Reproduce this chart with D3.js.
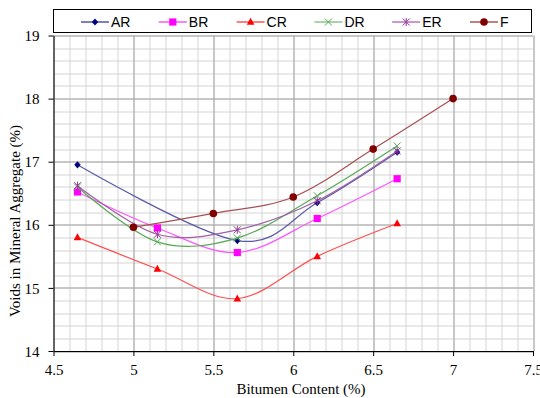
<!DOCTYPE html>
<html>
<head>
<meta charset="utf-8">
<script src="https://cdn.jsdelivr.net/npm/d3@7"></script>
<style>
  body { margin: 0; background: #fff; }
  svg { display: block; }
</style>
</head>
<body>
<svg width="540" height="398"></svg>
<script>
// series: x = bitumen content (%), y = VMA (%)
const xAR = [4.65, 5.65, 6.15, 6.65];
const yAR = [16.95, 15.75, 16.35, 17.15];
const xBR = [4.65, 5.15, 5.65, 6.15, 6.65];
const yBR = [16.52, 15.95, 15.56, 16.10, 16.73];
const xCR = [4.65, 5.15, 5.65, 6.15, 6.65];
const yCR = [15.80, 15.30, 14.83, 15.50, 16.02];
const xDR = [4.65, 5.15, 5.65, 6.15, 6.65];
const yDR = [16.60, 15.73, 15.79, 16.46, 17.25];
const xER = [4.65, 5.15, 5.65, 6.15, 6.65];
const yER = [16.62, 15.85, 15.92, 16.38, 17.17];
const xF = [5.0, 5.5, 6.0, 6.5, 7.0];
const yF = [15.96, 16.18, 16.44, 17.20, 18.00];

const seriesNames = ['AR', 'BR', 'CR', 'DR', 'ER', 'F'];
const xTicks = [4.5, 5, 5.5, 6, 6.5, 7, 7.5];
const yTicks = [14, 15, 16, 17, 18, 19];

const series = [
  {name: 'AR', xs: xAR, ys: yAR, color: '#000080', line: '#5a5aa8', marker: 'diamond'},
  {name: 'BR', xs: xBR, ys: yBR, color: '#ff00ff', line: '#ff55ff', marker: 'square'},
  {name: 'CR', xs: xCR, ys: yCR, color: '#ff0000', line: '#ff5050', marker: 'triangle'},
  {name: 'DR', xs: xDR, ys: yDR, color: '#55aa55', line: '#55aa55', marker: 'cross'},
  {name: 'ER', xs: xER, ys: yER, color: '#993399', line: '#a060a8', marker: 'star'},
  {name: 'F',  xs: xF,  ys: yF,  color: '#800000', line: '#a85050', marker: 'circle'}
];

const serif = '"Liberation Serif", "Times New Roman", serif';
const svg = d3.select('svg');
const margin = {top: 35.5, right: 7, bottom: 47, left: 53.5};
const width = 540 - margin.left - margin.right,
      height = 398 - margin.top - margin.bottom;

const x = d3.scaleLinear().domain([4.5, 7.5]).range([0, width]);
const y = d3.scaleLinear().domain([14, 19]).range([height, 0]);

const g = svg.append('g')
    .attr('transform', 'translate(' + margin.left + ',' + margin.top + ')');

// minor grid
g.append('g').selectAll('line')
    .data(d3.range(45, 76, 1).map(d => d / 10))
  .enter().append('line')
    .attr('x1', d => Math.round(x(d)) + 0.5).attr('x2', d => Math.round(x(d)) + 0.5)
    .attr('y1', 0).attr('y2', height)
    .attr('stroke', '#d4d4d4');
g.append('g').selectAll('line')
    .data(d3.range(70, 96, 1).map(d => d / 5))
  .enter().append('line')
    .attr('y1', d => Math.round(y(d)) + 0.5).attr('y2', d => Math.round(y(d)) + 0.5)
    .attr('x1', 0).attr('x2', width)
    .attr('stroke', '#d4d4d4');

// major grid
g.append('g').selectAll('line')
    .data(xTicks)
  .enter().append('line')
    .attr('x1', d => Math.round(x(d)) + 0.5).attr('x2', d => Math.round(x(d)) + 0.5)
    .attr('y1', 0).attr('y2', height)
    .attr('stroke', '#a6a6a6');
g.append('g').selectAll('line')
    .data(yTicks)
  .enter().append('line')
    .attr('y1', d => Math.round(y(d)) + 0.5).attr('y2', d => Math.round(y(d)) + 0.5)
    .attr('x1', 0).attr('x2', width)
    .attr('stroke', '#a6a6a6');

// axes
const xAxis = g.append('g')
    .attr('transform', 'translate(0,' + height + ')')
    .call(d3.axisBottom(x).tickValues(xTicks).tickFormat(d3.format('')).tickSize(5).tickSizeOuter(0).tickPadding(6));
const yAxis = g.append('g')
    .call(d3.axisLeft(y).tickValues(yTicks).tickFormat(d3.format('d')).tickSize(5).tickSizeOuter(0).tickPadding(9));
[xAxis, yAxis].forEach(a => {
  a.attr('font-family', serif).attr('font-size', 15);
  a.select('.domain').attr('stroke', '#000');
  a.selectAll('.tick line').attr('stroke', '#000');
  a.selectAll('.tick text').attr('fill', '#000');
});
xAxis.selectAll('.tick text').attr('dy', '0.85em');
yAxis.selectAll('.tick text').attr('dy', '0.34em');

// curves
const line = d3.line()
    .x(d => x(d[0]))
    .y(d => y(d[1]))
    .curve(d3.curveCardinal.tension(0));

function symbolPath(type) {
  if (type === 'diamond') return 'M0,-3.6L3.2,0L0,3.6L-3.2,0Z';
  if (type === 'square') return 'M-3.6,-3.6H3.6V3.6H-3.6Z';
  if (type === 'triangle') return 'M0,-4.2L3.8,2.8H-3.8Z';
  if (type === 'cross') return 'M-3.5,-3.5L3.5,3.5M-3.5,3.5L3.5,-3.5';
  if (type === 'star') return 'M-3.5,-3.5L3.5,3.5M-3.5,3.5L3.5,-3.5M0,-4L0,4';
  return null;
}

function drawMarker(sel, s) {
  if (s.marker === 'circle') {
    sel.append('circle').attr('r', 3.8).attr('fill', s.color);
  } else if (s.marker === 'cross' || s.marker === 'star') {
    sel.append('path').attr('d', symbolPath(s.marker))
        .attr('fill', 'none').attr('stroke', s.color).attr('stroke-width', 1);
  } else {
    sel.append('path').attr('d', symbolPath(s.marker)).attr('fill', s.color);
  }
}

series.forEach(s => {
  const pts = s.xs.map((v, i) => [v, s.ys[i]]);
  g.append('path')
      .datum(pts)
      .attr('fill', 'none')
      .attr('stroke', s.line)
      .attr('stroke-width', 1.2)
      .attr('d', line);
  pts.forEach(p => {
    const m = g.append('g').attr('transform', 'translate(' + x(p[0]) + ',' + y(p[1]) + ')');
    drawMarker(m, s);
  });
});

// legend
const legend = svg.append('g');
legend.append('rect')
    .attr('x', 53.5).attr('y', 9.5).attr('width', 478).attr('height', 23)
    .attr('fill', '#fff').attr('stroke', '#000');
series.forEach((s, i) => {
  const lx = 81 + i * 77.8;
  const item = legend.append('g').attr('transform', 'translate(' + lx + ',22)');
  item.append('line').attr('x1', 0).attr('x2', 28).attr('y1', 0).attr('y2', 0)
      .attr('stroke', s.color).attr('stroke-width', 1);
  drawMarker(item.append('g').attr('transform', 'translate(14,0)'), s);
  item.append('text')
      .attr('x', 30).attr('y', 5)
      .attr('font-family', '"Liberation Sans", Arial, sans-serif')
      .attr('font-size', 14)
      .text(seriesNames[i]);
});

// axis titles
svg.append('text')
    .attr('x', 301).attr('y', 394)
    .attr('text-anchor', 'middle')
    .attr('font-family', serif)
    .attr('font-size', 15)
    .text('Bitumen Content (%)');
svg.append('text')
    .attr('transform', 'translate(20,221) rotate(-90)')
    .attr('text-anchor', 'middle')
    .attr('font-family', serif)
    .attr('font-size', 15)
    .text('Voids in Mineral Aggregate (%)');
</script>
</body>
</html>
